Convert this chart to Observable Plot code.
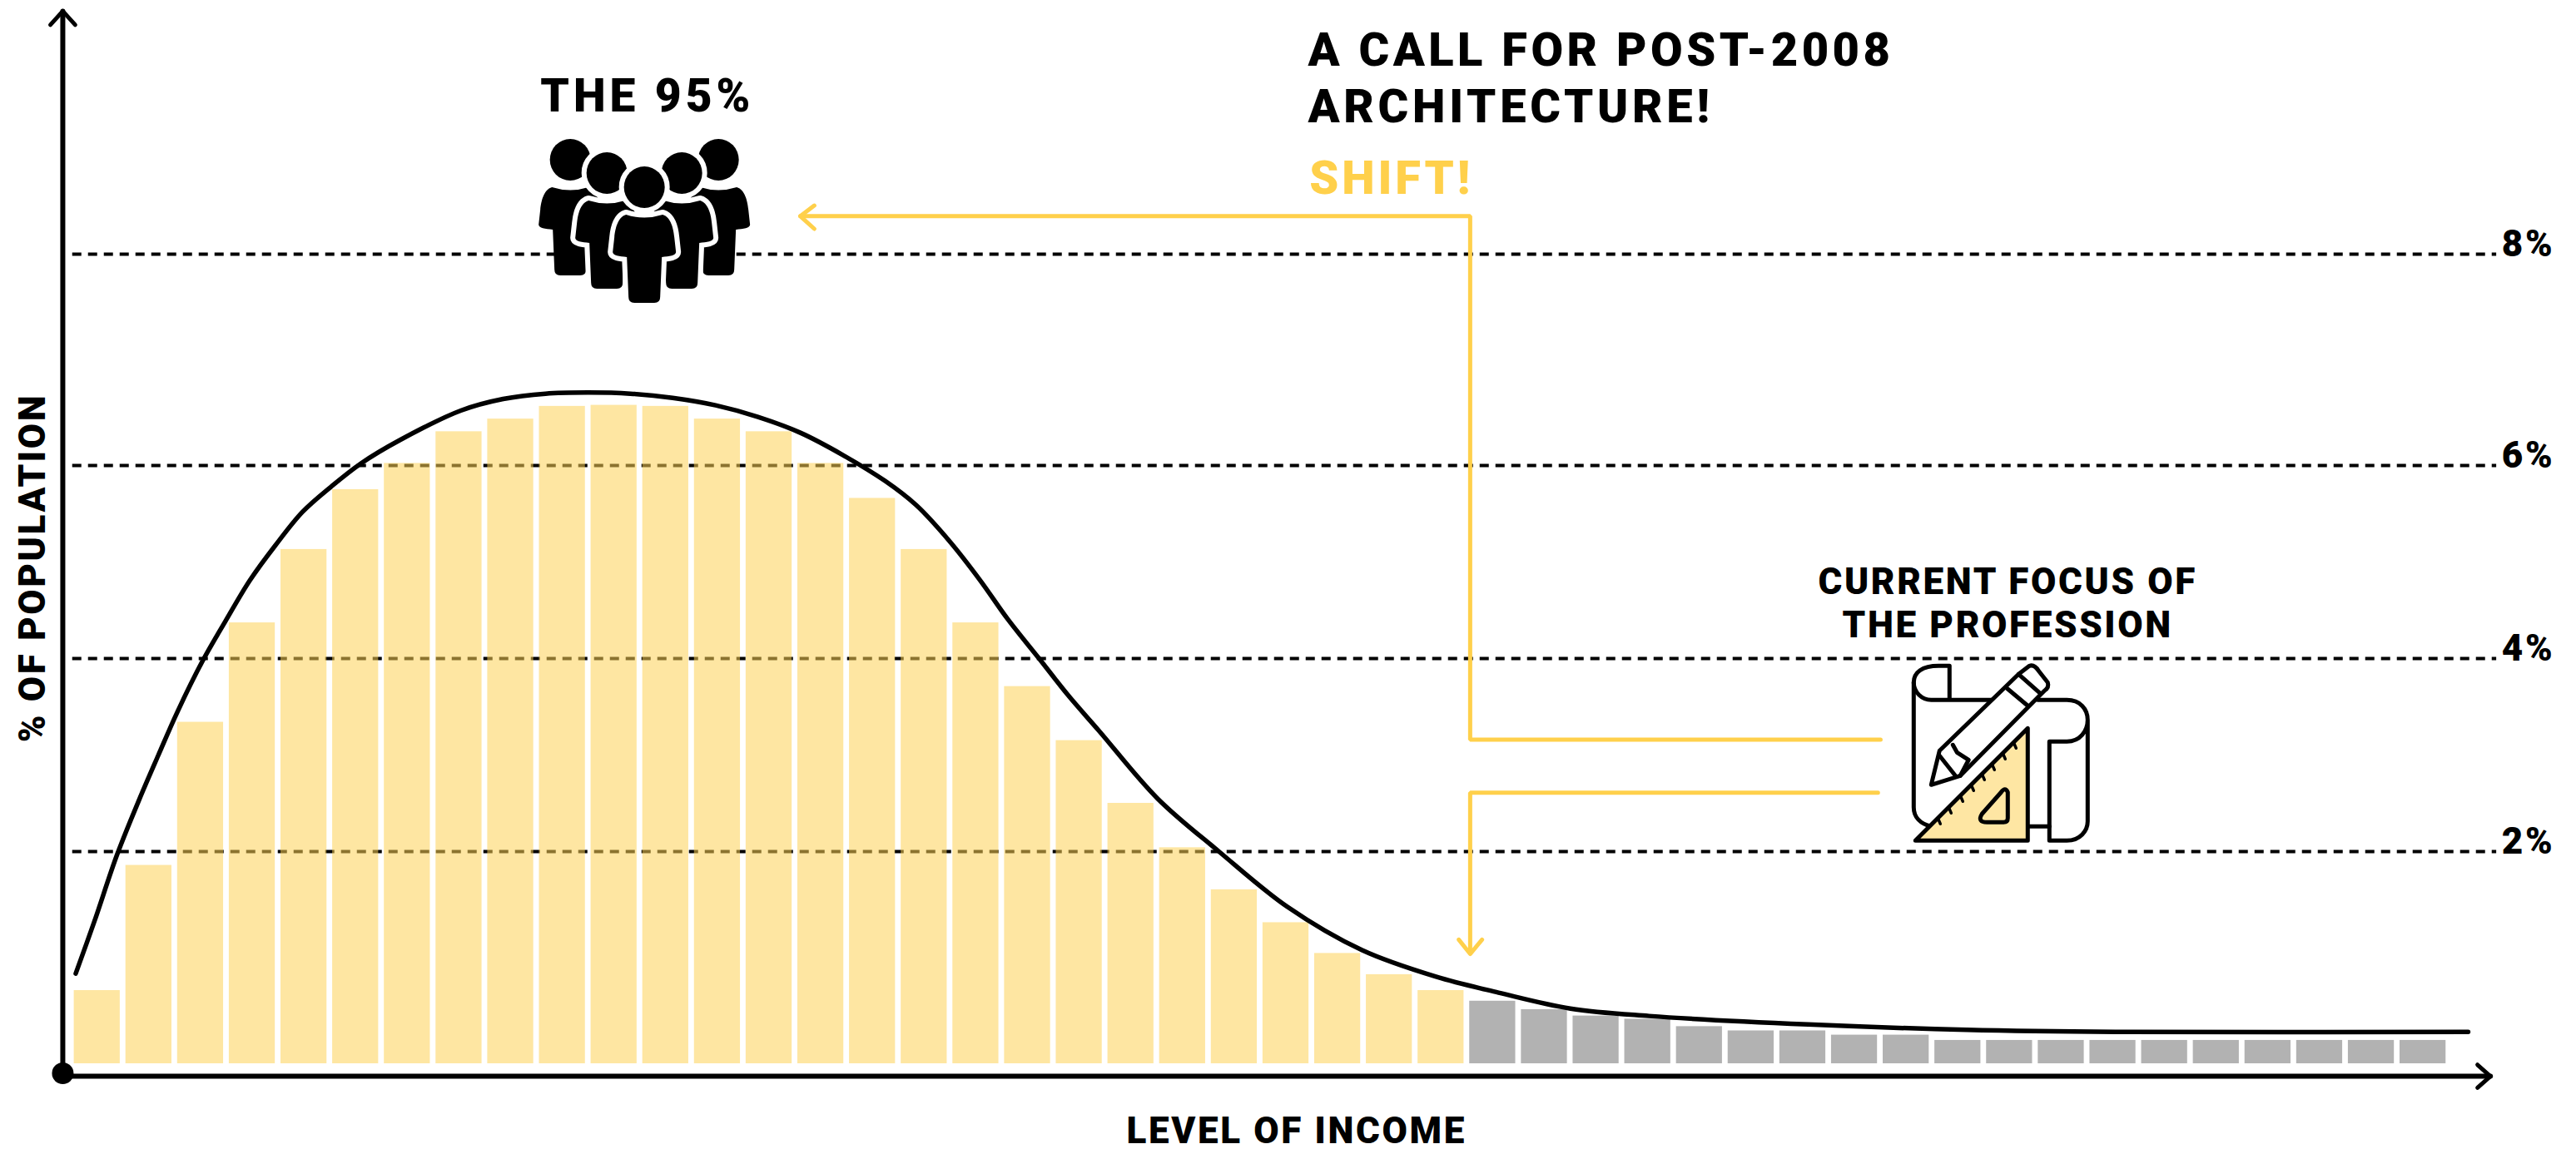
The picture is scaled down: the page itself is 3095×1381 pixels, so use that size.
<!DOCTYPE html>
<html>
<head>
<meta charset="utf-8">
<script src="https://cdn.jsdelivr.net/npm/d3@7"></script>
<script src="https://cdn.jsdelivr.net/npm/@observablehq/plot@0.6"></script>
<style>
html,body{margin:0;padding:0;background:#fff;overflow:hidden}
svg{display:block}
</style>
</head>
<body>
<div id="chart"></div>
<script>
// --- data: share of population per income bin, in % ---
const yellowShares = [0.69,1.87,3.34,4.37,5.13,5.75,6.02,6.32,6.44,6.56,6.57,6.56,6.44,6.32,6.02,5.66,5.13,4.37,3.71,3.15,2.50,2.04,1.64,1.33,1.04,0.84,0.69];
const grayShares = [0.59,0.51,0.45,0.42,0.35,0.31,0.31,0.27,0.27,0.22,0.22,0.22,0.22,0.22,0.22,0.22,0.22,0.22,0.22];
const curveLevel = [0.08,0.44,0.88,1.31,1.68,2.05,2.54,2.97,3.45,3.94,4.47,5.02,5.60,6.35,7.53,8.35,9.17,9.99,10.81,11.63,12.46,13.28,14.10,14.92,15.74,16.34,16.98,17.58,18.11,18.72,19.28,19.88,21.01,22.20,23.52,24.97,26.40,27.61,29.0,30.52,33.6,36.67,39.73,46.37];
const curveShare = [0.85,1.34,1.97,2.54,3.00,3.45,3.98,4.38,4.81,5.17,5.52,5.78,6.02,6.24,6.52,6.63,6.68,6.69,6.68,6.64,6.57,6.46,6.31,6.10,5.84,5.59,5.22,4.81,4.41,4.00,3.62,3.25,2.55,2.00,1.48,1.07,0.82,0.67,0.52,0.45,0.37,0.32,0.30,0.30];
const gridTicks = [2,4,6,8];
const FONT = "Roboto";
const BLACK = "#000";
const YELLOW = "#FFD04B";

const yellowBars = yellowShares.map((v,i)=>({i,v}));
const grayBars = grayShares.map((v,i)=>({i:i+yellowShares.length,v}));
const curve = curveLevel.map((x,i)=>({x,y:curveShare[i]}));
const pts = (xs,ys)=>xs.map((x,i)=>({x,y:ys[i]}));

const peopleIcon = (i,{x,y})=>{
  const g=d3.create("svg:g").attr("transform",`translate(${x(11.09)},${y(8.63)})`);
  const body="M-22,33C-32,36 -35,50 -36,60L-38,78C-38,82 -30,83 -21,84L-19,132Q-19,139 -12,139L12,139Q19,139 19,132L21,84C30,83 38,82 38,78L36,60C35,50 32,36 22,33Q0,40 -22,33Z";
  [[-89,-33,0],[89,-33,0],[-45,-17,1],[45,-17,1],[0,0,1]].forEach(([dx,dy,h])=>{
    const p=g.append("g").attr("transform",`translate(${dx},${dy})`);
    if(h){
      p.append("path").attr("d",body).attr("fill","#fff").attr("stroke","#fff").attr("stroke-width",12).attr("stroke-linejoin","round");
      p.append("ellipse").attr("rx",24.5).attr("ry",25).attr("fill","#fff").attr("stroke","#fff").attr("stroke-width",12);
    }
    p.append("path").attr("d",body).attr("fill",BLACK);
    p.append("ellipse").attr("rx",24.5).attr("ry",25).attr("fill",BLACK);
  });
  return g.node();
};

const planIcon = (i,{x,y})=>{
  const g=d3.create("svg:g").attr("transform",`translate(${x(35.65)},${y(3.92)})`)
    .attr("fill","none").attr("stroke",BLACK).attr("stroke-width",5).attr("stroke-linejoin","round").attr("stroke-linecap","round");
  const line=d=>g.append("path").attr("d",d);
  line("M43,41L43,0L30,0C10,0 0,8 0,20C0,32 10,41 21,41L94,41");
  line("M0,20L0,170C0,182 8,190 21,193");
  line("M149,41L184,41C200,41 209,52 209,65C209,78 200,91 184,91L163,91L163,210L184,210C200,210 209,198 209,187L209,65");
  line("M139,193L163,193");
  g.append("path").attr("d","M137,75L137,210L2,210Z").attr("fill","#FEE6A3");
  line("M113,152Q110,145 105,152L82,178Q76,188 88,188L108,188Q113,188 113,183Z");
  [[29,183],[42,170],[56,156],[69,143],[82,130],[94,118],[107,105],[120,92]].forEach(([a,b])=>
    g.append("path").attr("d",`M${a},${b}l3,7`).attr("stroke-width",3.5));
  g.append("path").attr("d","M21,143L31,102L126,10L139,0Q145,-2 150,6L161,20Q163,26 157,30L149,38L56,132Z").attr("fill","#fff");
  line("M112,27L137,48");
  line("M126,10L152,33");
  line("M47,95L52,104L66,113L56,132");
  line("M31,108L50,132");
  return g.node();
};

const texts = [
  {x:23.92,y:9.78,t:"A CALL FOR POST-2008",s:56,c:BLACK,a:"start"},
  {x:23.92,y:9.25,t:"ARCHITECTURE!",s:56,c:BLACK,a:"start"},
  {x:23.95,y:8.57,t:"SHIFT!",s:56,c:YELLOW,a:"start"},
  {x:11.14,y:9.35,t:"THE 95%",s:55,c:BLACK,a:"middle"},
  {x:37.46,y:4.67,t:"CURRENT FOCUS OF",s:44,c:BLACK,a:"middle"},
  {x:37.46,y:4.22,t:"THE PROFESSION",s:44,c:BLACK,a:"middle"},
  {x:23.7,y:-0.75,t:"LEVEL OF INCOME",s:44,c:BLACK,a:"middle"}
];
const textMark = d=>Plot.text([d],{x:"x",y:"y",text:"t",fontSize:d.s,fill:d.c,textAnchor:d.a,lineAnchor:"bottom",fontWeight:900,fontFamily:FONT});

const chart = Plot.plot({
  width:3095,height:1381,
  marginTop:0,marginRight:0,marginBottom:0,marginLeft:0,
  style:{background:"#fff",fontFamily:FONT,overflow:"visible"},
  x:{type:"linear",domain:[0,46],range:[85.5,2942],axis:null},
  y:{type:"linear",domain:[0,2,4,6,8],range:[1278,1023,791,559,305],axis:null},
  marks:[
    Plot.ruleY(gridTicks,{x1:0.02,x2:46.92,stroke:BLACK,strokeWidth:4,strokeDasharray:"11 8"}),
    peopleIcon,
    Plot.rectY(yellowBars,{x1:d=>d.i+0.05,x2:d=>d.i+0.94,y1:0,y2:"v",fill:"#FDD156",fillOpacity:0.55}),
    Plot.rectY(grayBars,{x1:d=>d.i+0.05,x2:d=>d.i+0.94,y1:0,y2:"v",fill:"#B2B2B2"}),
    Plot.line(curve,{x:"x",y:"y",stroke:BLACK,strokeWidth:5.5,curve:"catmull-rom"}),
    // axes
    Plot.line(pts([-0.17,-0.17],[-0.118,10.30]),{x:"x",y:"y",stroke:BLACK,strokeWidth:6}),
    Plot.line(pts([-0.17,46.8],[-0.118,-0.118]),{x:"x",y:"y",stroke:BLACK,strokeWidth:6}),
    Plot.line(pts([-0.41,-0.17,0.07],[10.17,10.30,10.17]),{x:"x",y:"y",stroke:BLACK,strokeWidth:5}),
    Plot.line(pts([46.55,46.8,46.55],[-0.01,-0.118,-0.227]),{x:"x",y:"y",stroke:BLACK,strokeWidth:5}),
    Plot.dot([{x:-0.17,y:-0.09}],{x:"x",y:"y",r:13,fill:BLACK}),
    // shift callout
    Plot.line(pts([14.1,27.06,27.06,35.0],[8.36,8.36,3.16,3.16]),{x:"x",y:"y",stroke:YELLOW,strokeWidth:5,strokeLinejoin:"miter"}),
    Plot.line(pts([34.95,27.06,27.06],[2.61,2.61,1.05]),{x:"x",y:"y",stroke:YELLOW,strokeWidth:5,strokeLinejoin:"miter"}),
    Plot.line(pts([14.37,14.1,14.37],[8.46,8.36,8.24]),{x:"x",y:"y",stroke:YELLOW,strokeWidth:5}),
    Plot.line(pts([26.84,27.06,27.29],[1.17,1.035,1.17]),{x:"x",y:"y",stroke:YELLOW,strokeWidth:5}),
    planIcon,
    ...texts.map(textMark),
    Plot.text(gridTicks,{x:47.02,y:d=>d,dy:2,text:d=>d+"%",fontSize:44,fontWeight:900,fontFamily:FONT,textAnchor:"start",lineAnchor:"bottom",fill:BLACK}),
    Plot.text(["% OF POPULATION"],{x:-0.52,y:4.94,text:d=>d,rotate:-90,fontSize:44,fontWeight:900,fontFamily:FONT,textAnchor:"middle",lineAnchor:"bottom",fill:BLACK})
  ]
});
const spacing = {"A CALL FOR POST-2008":"0.08em","ARCHITECTURE!":"0.085em","THE 95%":"0.09em","SHIFT!":"0.07em"};
d3.select(chart).selectAll("text").style("letter-spacing",function(){return spacing[this.textContent]||"0.06em"});
document.getElementById("chart").append(chart);
</script>
</body>
</html>
